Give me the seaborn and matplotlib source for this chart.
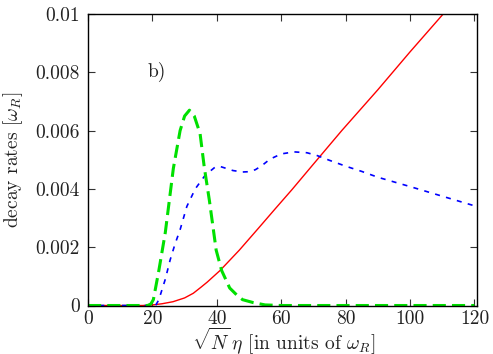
import numpy as np
import pandas as pd
import matplotlib
matplotlib.use("Agg")
import matplotlib.pyplot as plt
import seaborn as sns

# --- data ---
red_x = [0, 17, 20, 23, 26.4, 30, 32.7, 35, 37, 39, 41, 44, 47, 50, 53, 58,
         63.3, 70, 78.8, 90, 100, 110.3, 120]
red_y = [0, 0, 0.00002, 0.00006, 0.00013, 0.00026, 0.00042, 0.00062, 0.0008,
         0.0010, 0.0012, 0.00155, 0.0019, 0.00228, 0.00266, 0.0033, 0.00397,
         0.00485, 0.0060, 0.0074, 0.0087, 0.0100, 0.0112]

blue_x = [0, 21, 22, 24, 25.5, 27, 28.6, 30.7, 33.3, 36.4, 39.5, 41, 43, 45, 48,
          50, 52, 54, 56.5, 60, 64, 68, 71, 75, 80, 85, 90, 100, 110, 120]
blue_y = [0, 0, 0.0002, 0.0009, 0.00156, 0.0021, 0.0026, 0.0034, 0.0040,
          0.00447, 0.00475, 0.00477, 0.0047, 0.00463, 0.00458, 0.00459, 0.00466,
          0.0048, 0.00502, 0.0052, 0.00527, 0.00524, 0.00515, 0.00498, 0.00478,
          0.0046, 0.0044, 0.00408, 0.00375, 0.00342]

green_x = [0, 18.5, 19.5, 20.3, 22, 24, 26.5, 28.6, 30, 31.5, 33, 34.8, 36.1,
           37.7, 39.8, 41.5, 44, 46.2, 48, 51.3, 55, 60, 120]
green_y = [0, 0, 0.00005, 0.0002, 0.0012, 0.0025, 0.0047, 0.0060, 0.0065,
           0.0067, 0.0065, 0.0059, 0.00475, 0.0036, 0.0019, 0.0012, 0.0006,
           0.00036, 0.0002, 0.0001, 0.00002, 0, 0]

x_ticks = [0, 20, 40, 60, 80, 100, 120]
y_ticks = [0, 0.002, 0.004, 0.006, 0.008, 0.01]
y_tick_labels = ["0", "0.002", "0.004", "0.006", "0.008", "0.01"]

sns.set_style("ticks")
plt.rcParams["font.family"] = ["cmr10", "DejaVu Serif"]
plt.rcParams["mathtext.fontset"] = "cm"
plt.rcParams["axes.formatter.use_mathtext"] = True

fig = plt.figure(figsize=(4.93, 3.54), dpi=100)
ax = fig.add_axes([88 / 493, 48.5 / 354, (477 - 88) / 493, (305.5 - 14) / 354])

sns.lineplot(x=red_x, y=red_y, ax=ax, color="#ff0000", lw=1.0, linestyle="-")
sns.lineplot(x=blue_x, y=blue_y, ax=ax, color="#0000ff", lw=1.2,
             linestyle=(0, (3.0, 3.8)))
sns.lineplot(x=green_x, y=green_y, ax=ax, color="#00e000", lw=2.2,
             linestyle=(0, (4.3, 2.0)))

ax.set_xlim(0, 120.8)
ax.set_ylim(0, 0.01)
ax.set_xticks(x_ticks)
ax.set_xticklabels([str(t) for t in x_ticks])
ax.set_yticks(y_ticks)
ax.set_yticklabels(y_tick_labels)
ax.tick_params(direction="in", length=5, width=0.8, top=True, right=True,
               labelsize=14, colors="#333333", labelcolor="#222222")
ax.tick_params(axis="x", pad=3)
ax.tick_params(axis="y", pad=6)
for s in ax.spines.values():
    s.set_linewidth(1.0)
    s.set_color("black")

ax.set_ylabel(r"decay rates $[\omega_R]$", fontsize=14, color="#222222")
ax.yaxis.set_label_coords(-0.162, 0.5)
ax.set_xlabel(r"$\sqrt{N}\,\eta$ [in units of $\omega_R$]", fontsize=14,
              color="#222222")
ax.xaxis.set_label_coords(0.503, -0.066)

ax.text(18.5, 0.008, "b)", fontsize=14, va="center", ha="left", color="#222222")

fig.savefig("out.png", dpi=100)
